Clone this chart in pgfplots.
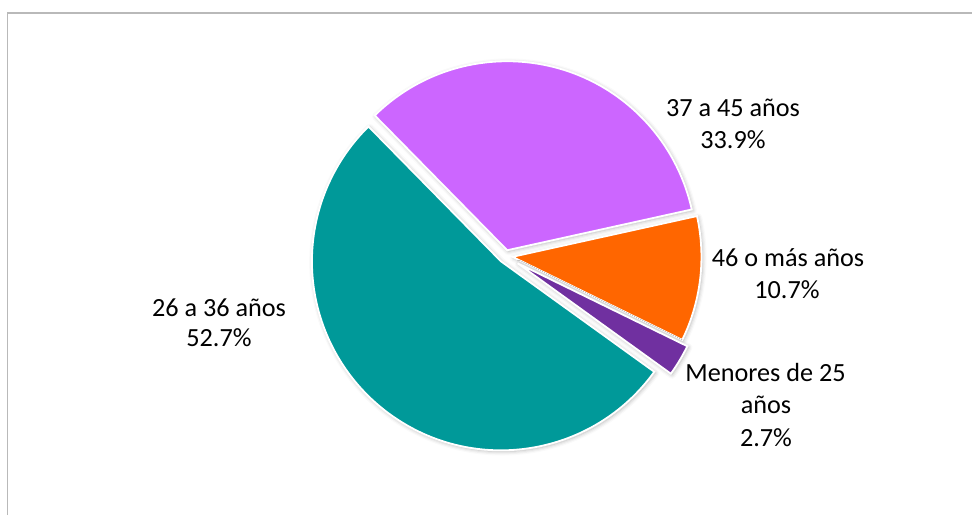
\documentclass[border=0pt]{standalone}
\usepackage{fontspec}
\setmainfont{Carlito}
\usepackage{pgfplots}
\pgfplotsset{compat=1.18}
\usetikzlibrary{shadows.blur}
\definecolor{cteal}{RGB}{0,153,153}
\definecolor{cpurple}{RGB}{204,102,255}
\definecolor{corange}{RGB}{255,102,0}
\definecolor{cdark}{RGB}{112,48,160}
\begin{document}
\begin{tikzpicture}
\begin{axis}[x=0.5pt,y=0.5pt,xmin=0,xmax=972,ymin=0,ymax=515,
  hide axis,clip=false,anchor=south west,at={(0,0)}]
\draw[gray!55, line width=0.75pt] (axis cs:7.5,0) -- (axis cs:7.5,502) -- (axis cs:972,502);
% slices: value (percent) / colour / explode (px), clockwise from 134.5 deg
\gdef\astart{134.5}
\foreach \v/\col/\e in {33.9/cpurple/6, 10.7/corange/7, 2.7/cdark/14, 52.7/cteal/7}{
  \pgfmathsetmacro\aend{\astart-3.6*\v}
  \pgfmathsetmacro\amid{\astart-1.8*\v}
  \pgfmathsetmacro\px{505.5+\e*cos(\amid)}
  \pgfmathsetmacro\py{259+\e*sin(\amid)}
  \edef\temp{\noexpand\fill[\col, draw=white, line width=0.9pt,
     blur shadow={shadow xshift=0.6pt, shadow yshift=-0.6pt, shadow opacity=30, shadow blur radius=2pt}]
     (axis cs:\px,\py) -- ++(\astart:94.5pt) arc[start angle=\astart, end angle=\aend, radius=94.5pt] -- cycle;}
  \temp
  \xdef\astart{\aend}
}
\tikzset{lbl/.style={anchor=base, inner sep=0pt, font=\fontsize{13.1}{15.75}\selectfont}}
\node[lbl] at (axis cs:733,398.3) {37 a 45 años};
\node[lbl] at (axis cs:733,367) {33.9\%};
\node[lbl] at (axis cs:788,248.3) {46 o más años};
\node[lbl] at (axis cs:787,217) {10.7\%};
\node[lbl] at (axis cs:219,198.3) {26 a 36 años};
\node[lbl] at (axis cs:219,168.3) {52.7\%};
\node[lbl] at (axis cs:765.5,133.3) {Menores de 25};
\node[lbl] at (axis cs:766,101.7) {años};
\node[lbl] at (axis cs:766,68.3) {2.7\%};
\end{axis}
\pgfresetboundingbox
\path (0,0) rectangle (486pt,257.5pt);
\end{tikzpicture}
\end{document}
